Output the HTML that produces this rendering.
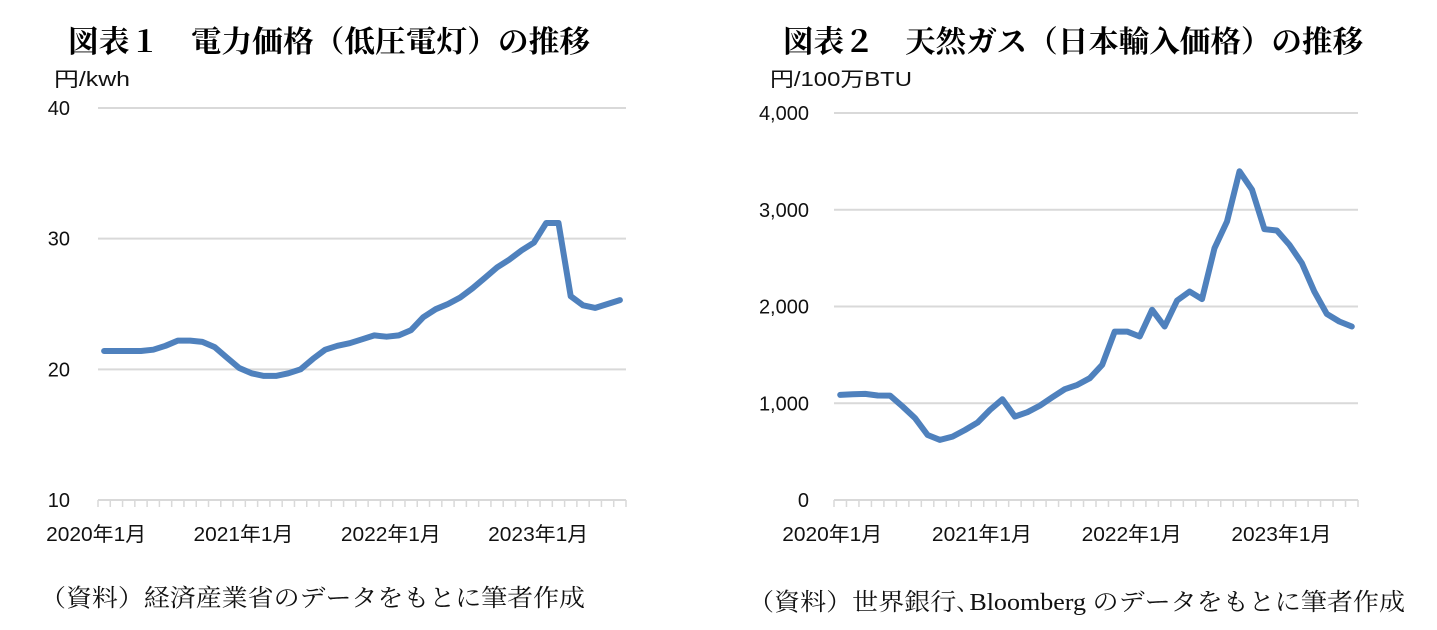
<!DOCTYPE html>
<html><head><meta charset="utf-8">
<style>
body{margin:0;background:#fff;}
svg{display:block;}
.t{font-family:"Liberation Serif","Noto Serif CJK SC",serif;font-weight:bold;font-size:30px;fill:#000;}
.s{font-family:"Liberation Serif","Noto Serif CJK SC",serif;font-size:24px;fill:#111;}
.a{font-family:"Liberation Sans","Noto Sans CJK JP",sans-serif;font-size:20px;fill:#111;}
.u{font-family:"Liberation Sans","Noto Sans CJK JP",sans-serif;font-size:20px;fill:#111;}
</style></head>
<body>
<svg id="root" width="1437" height="630" xmlns="http://www.w3.org/2000/svg">
<text class="t" x="68" y="52" textLength="522" lengthAdjust="spacingAndGlyphs">図表１　電力価格（低圧電灯）の推移</text>
<text class="u" x="54" y="86" textLength="76" lengthAdjust="spacingAndGlyphs">円/kwh</text>
<text class="s" x="40" y="606" textLength="545" lengthAdjust="spacingAndGlyphs">（資料）経済産業省のデータをもとに筆者作成</text>
<text class="t" x="783" y="52" textLength="580" lengthAdjust="spacingAndGlyphs">図表２　天然ガス（日本輸入価格）の推移</text>
<text class="u" x="770" y="86" textLength="142" lengthAdjust="spacingAndGlyphs">円/100万BTU</text>
<text class="s" x="748" y="610" textLength="657" lengthAdjust="spacingAndGlyphs">（資料）世界銀行､Bloomberg のデータをもとに筆者作成</text>
<g id="c1"></g>
<g id="c2"></g>
</svg>
<script>
const elecValues=[21.4,21.4,21.4,21.4,21.5,21.8,22.2,22.2,22.1,21.7,20.9,20.1,19.7,19.5,19.5,19.7,20.0,20.8,21.5,21.8,22.0,22.3,22.6,22.5,22.6,23.0,24.0,24.6,25.0,25.5,26.2,27.0,27.8,28.4,29.1,29.7,31.2,31.2,25.6,24.9,24.7,25.0,25.3];
const elecTicks=[10,20,30,40];
const elecTickLabels=["10","20","30","40"];
const gasValues=[1086,1092,1097,1080,1079,966,845,672,621,655,724,800,931,1041,862,907,976,1062,1145,1190,1259,1397,1741,1741,1690,1966,1793,2062,2155,2076,2603,2879,3397,3207,2800,2786,2638,2448,2155,1924,1845,1793];
const gasTicks=[0,1000,2000,3000,4000];
const gasTickLabels=["0","1,000","2,000","3,000","4,000"];
const xLabels=["2020年1月","2021年1月","2022年1月","2023年1月"];
const xLabelIdx=[0,12,24,36];
const NS="http://www.w3.org/2000/svg";
function mk(p,tag,at){const e=document.createElementNS(NS,tag);for(const k in at)e.setAttribute(k,at[k]);p.appendChild(e);return e;}
function draw(g,vals,ticks,tlabels,x0,x1,yTop,yBot,vmin,vmax,labelX,nCats,pfx){
  const y=v=>yBot-(v-vmin)/(vmax-vmin)*(yBot-yTop);
  const w=(x1-x0)/nCats;
  const x=i=>x0+w*(i+0.5);
  ticks.forEach((t,i)=>{
    if(t!==vmin){const l=mk(g,'line',{x1:x0,x2:x1,y1:y(t),y2:y(t),stroke:'#d9d9d9','stroke-width':2});
    
    }
    const tx=mk(g,'text',{x:labelX,y:y(t)+7,'text-anchor':'end',class:'a'});tx.textContent=tlabels[i];
    
    
  });
  const ax=mk(g,'line',{x1:x0,x2:x1,y1:yBot,y2:yBot,stroke:'#d9d9d9','stroke-width':2});
  
  
  for(let i=0;i<=nCats;i++){const tk=mk(g,'line',{x1:x0+w*i,x2:x0+w*i,y1:yBot,y2:yBot+7,stroke:'#d9d9d9','stroke-width':1.5});
    
    }
  xLabels.forEach((s,i)=>{const tx=mk(g,'text',{x:x(xLabelIdx[i])-8,y:yBot+41,'text-anchor':'middle',class:'a',textLength:100,lengthAdjust:'spacingAndGlyphs'});tx.textContent=s;
    
    });
  const pts=vals.map((v,i)=>x(i).toFixed(1)+','+y(v).toFixed(1)).join(' ');
  const pl=mk(g,'polyline',{points:pts,fill:'none',stroke:'#4f81bd','stroke-width':6,'stroke-linejoin':'round','stroke-linecap':'round'});
  
  
}
draw(document.getElementById('c1'),elecValues,elecTicks,elecTickLabels,98,626,108,500,10,40,70,elecValues.length,'chart1');
draw(document.getElementById('c2'),gasValues,gasTicks,gasTickLabels,834,1358,113,500,0,4000,809,gasValues.length,'chart2');
</script>
</body></html>
